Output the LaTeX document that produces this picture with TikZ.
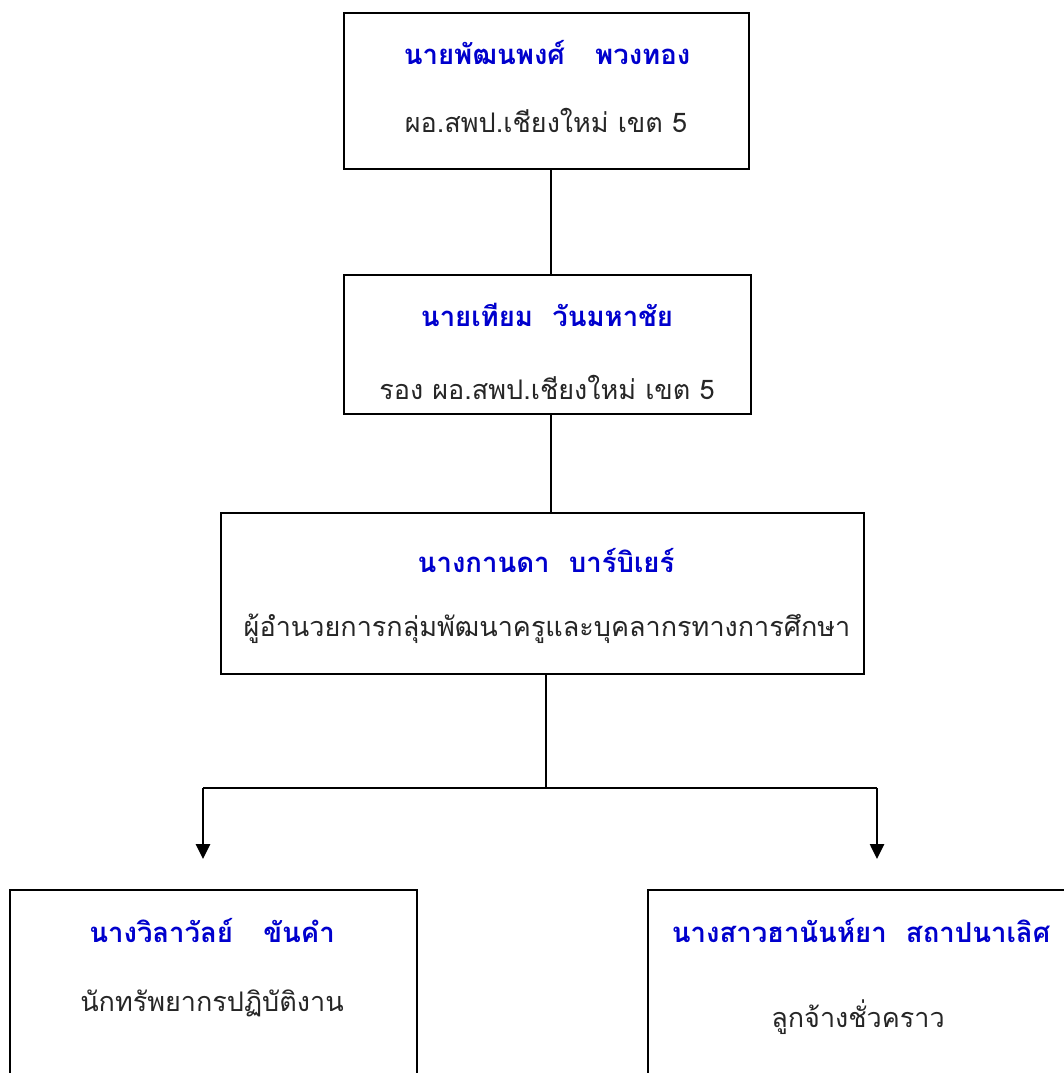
\documentclass[tikz,border=0pt]{standalone}
\usepackage{fontspec}
\newfontfamily\thai[Script=Thai]{Loma}
\usetikzlibrary{arrows.meta}
\definecolor{nameblue}{RGB}{0,0,205}
\begin{document}
\begin{tikzpicture}[x=1pt,y=-1pt,
  box/.style={draw=black,line width=1.8pt,inner sep=0pt,fill=white},
  title/.style={text=nameblue,font=\thai\bfseries\fontsize{27.5}{32}\selectfont,inner sep=0pt},
  sub/.style={text=black!85,font=\thai\fontsize{27}{32}\selectfont,inner sep=0pt},
  conn/.style={draw=black,line width=1.9pt},
  arr/.style={draw=black,line width=2.6pt,-{Triangle[width=14pt,length=15pt]}}]
\useasboundingbox (0,0) rectangle (1064,1073);
\clip (0,0) rectangle (1064,1073);
% boxes
\node[box,minimum width=405pt,minimum height=156pt] (b1) at (546.5,91) {};
\node[box,minimum width=407pt,minimum height=139pt] (b2) at (547.5,344.5) {};
\node[box,minimum width=643pt,minimum height=161pt] (b3) at (542.5,593.5) {};
\node[box,minimum width=407pt,minimum height=260pt] (b4) at (213.5,1020) {};
\node[box,minimum width=460pt,minimum height=260pt] (b5) at (878,1020) {};
% texts
\node[title] (t1) at (547,53) {นายพัฒนพงศ์\hspace{1.1em}พวงทอง};
\node[sub] (s1) at (546,120) {ผอ.สพป.เชียงใหม่ เขต 5};
\node[title] (t2) at (547,315) {นายเทียม\hspace{0.7em}วันมหาชัย};
\node[sub] (s2) at (547,387) {รอง ผอ.สพป.เชียงใหม่ เขต 5};
\node[title] (t3) at (546,560) {นางกานดา\hspace{0.7em}บาร์บิเยร์};
\node[sub] (s3) at (547,629) {ผู้อำนวยการกลุ่มพัฒนาครูและบุคลากรทางการศึกษา};
\node[title] (t4) at (212,930) {นางวิลาวัลย์\hspace{1.1em}ขันคำ};
\node[sub] (s4) at (212,1003) {นักทรัพยากรปฏิบัติงาน};
\node[title] (t5) at (861,930) {นางสาวฮานันห์ยา\hspace{0.7em}สถาปนาเลิศ};
\node[sub] (s5) at (858,1017) {ลูกจ้างชั่วคราว};
% connectors
\coordinate (j) at (546,788);
\coordinate (jl) at (203,788);
\coordinate (jr) at (877,788);
\coordinate (al) at (203,859);
\coordinate (ar) at (877,859);
\draw[conn] ([xshift=4.5pt]b1.south) -- ([xshift=4.5pt]b1.south |- b2.north);
\draw[conn] ([xshift=3.5pt]b2.south) -- ([xshift=3.5pt]b2.south |- b3.north);
\draw[conn] (b3.south -| j) -- (j);
\draw[conn] (jl) -- (jr);
\draw[arr] (jl) -- (al);
\draw[arr] (jr) -- (ar);
\end{tikzpicture}
\end{document}
